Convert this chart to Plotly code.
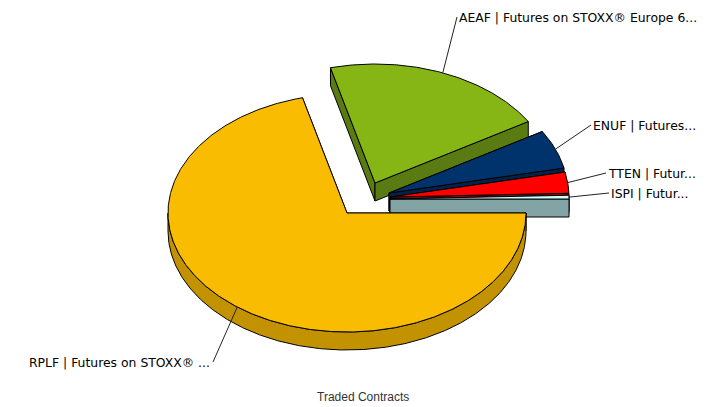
import numpy as np
import plotly.graph_objects as go

# Data
CODES = ["RPLF", "AEAF", "ENUF", "TTEN", "ISPI"]
LABELS = ["RPLF | Futures on STOXX® ...", "AEAF | Futures on STOXX® Europe 6...",
          "ENUF | Futures...", "TTEN | Futur...", "ISPI | Futur..."]
VALUES = [71.0, 20.36, 5.28, 2.86, 0.5]
TITLE = "Traded Contracts"

# Style
TOP_COLORS = ["#F9BC00", "#85B616", "#00336B", "#FF0000", "#CCFFFF"]
WALL_COLORS = ["#C29200", "#5A7A12", "#00234A", "#A00000", "#82A4A4"]
CX, CY, RX, RY, DEPTH = 347.0, 213.0, 179.0, 119.0, 18.0
OFFSET_X = {"RPLF": 0, "AEAF": 28, "ENUF": 42, "TTEN": 43, "ISPI": 43}
OFFSET_Y = {"RPLF": 0, "AEAF": -30, "ENUF": -20, "TTEN": -16, "ISPI": -14}
LEADER_END = {"RPLF": (213, 362), "AEAF": (457, 17), "ENUF": (591, 125),
              "TTEN": (606, 173), "ISPI": (609, 193)}
DRAW_ORDER = ["AEAF", "ENUF", "TTEN", "ISPI", "RPLF"]

fig = go.Figure()


def add_poly(xs, ys, color):
    fig.add_trace(go.Scatter(x=list(xs), y=list(ys), mode="lines", fill="toself",
                             fillcolor=color, line=dict(color="black", width=1),
                             hoverinfo="skip", showlegend=False))


total = sum(VALUES)
fractions = np.array(VALUES) / total
starts = 90 + 360 * np.concatenate(([0], np.cumsum(fractions)[:-1]))
sweeps = 360 * fractions
shapes = []
annotations = []
info = {}
for i, code in enumerate(CODES):
    info[code] = (i, starts[i], sweeps[i])

for code in DRAW_ORDER:
    i, start, sweep = info[code]
    ax = CX + OFFSET_X[code]
    ay = CY + OFFSET_Y[code]
    t = np.radians(np.linspace(start, start + sweep, max(int(sweep * 2), 6)))
    ex = ax + RX * np.sin(t)
    ey = ay - RY * np.cos(t)
    # cut faces: back-facing parts are covered by the top face, drawn last
    add_poly([ax, ex[0], ex[0], ax, ax], [ay, ey[0], ey[0] + DEPTH, ay + DEPTH, ay], WALL_COLORS[i])
    add_poly([ax, ex[-1], ex[-1], ax, ax], [ay, ey[-1], ey[-1] + DEPTH, ay + DEPTH, ay], WALL_COLORS[i])
    # outer wall only where the rim faces the viewer
    front = np.cos(t) <= 1e-9
    if front.sum() > 1:
        fx, fy = ex[front], ey[front]
        add_poly(np.r_[fx, fx[::-1], fx[0]], np.r_[fy, fy[::-1] + DEPTH, fy[0]], WALL_COLORS[i])
    add_poly(np.r_[ax, ex, ax], np.r_[ay, ey, ay], TOP_COLORS[i])

for code in CODES:
    i, start, sweep = info[code]
    mid = np.radians(start + sweep / 2)
    lx = CX + OFFSET_X[code] + RX * np.sin(mid)
    ly = CY + OFFSET_Y[code] - RY * np.cos(mid)
    endx, endy = LEADER_END[code]
    shapes.append(dict(type="line", x0=lx, y0=ly, x1=endx, y1=endy,
                       line=dict(color="#222222", width=1), layer="above"))
    right = code == "RPLF"
    annotations.append(dict(x=endx + (-1 if right else 0), y=endy + 0.5, text=LABELS[i], showarrow=False,
                            xanchor="right" if right else "left", yanchor="middle",
                            font=dict(family="DejaVu Sans", size=12.4, color="black")))

annotations.append(dict(x=363, y=397, text=TITLE, showarrow=False, xanchor="center", yanchor="middle",
                        font=dict(family="Liberation Sans", size=12, color="#333333")))

fig.update_layout(width=718, height=407, autosize=False,
                  margin=dict(l=0, r=0, t=0, b=0),
                  paper_bgcolor="white", plot_bgcolor="white", showlegend=False,
                  xaxis=dict(range=[0, 718], visible=False, fixedrange=True),
                  yaxis=dict(range=[407, 0], visible=False, fixedrange=True),
                  shapes=shapes, annotations=annotations)

fig.write_html("out.html", config={"displayModeBar": False},
               post_script="document.body.style.margin='0';")
